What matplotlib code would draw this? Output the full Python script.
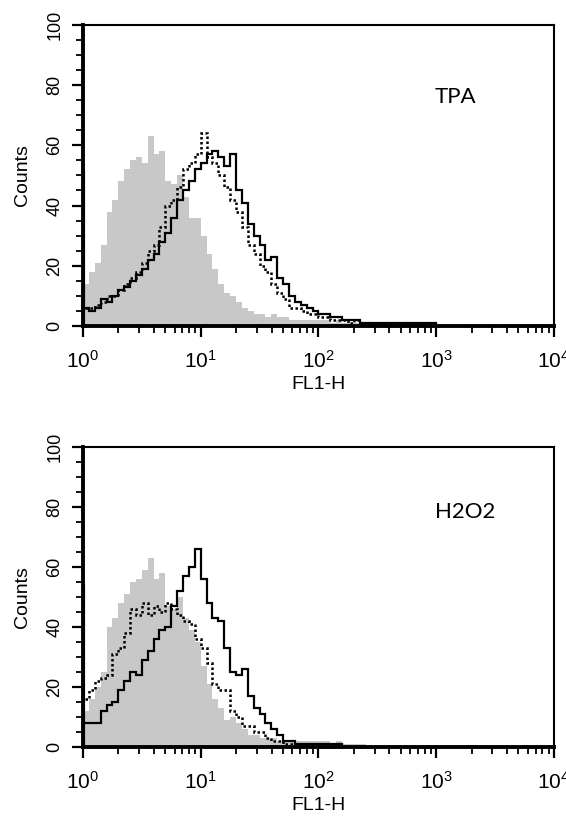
#! /usr/bin/env python3

import numpy as np
import matplotlib
matplotlib.use('Agg')
import matplotlib.pyplot as plt
from matplotlib.ticker import LogLocator, MultipleLocator, FuncFormatter, NullFormatter

plt.rcParams['font.family'] = ['Liberation Sans', 'DejaVu Sans']

# channels: 0.05 decade wide, from 10^0 up to 10^3
DECADE_STEP = 0.05

# TPA panel
tpa_control = [14, 18, 21, 27, 38, 42, 48, 52, 55, 56, 54, 63, 57, 58, 48, 47, 50, 43, 36, 36,
               30, 24, 19, 14, 11, 10, 8, 6, 5, 4, 4, 3, 4, 3, 3, 2, 2, 2, 2, 2,
               2, 2, 1, 2, 1, 1, 1, 1, 0, 0, 0, 0, 0, 0, 0, 0, 0, 0, 0, 0]
tpa_solid = [6, 5, 6, 9, 8, 10, 12, 13, 15, 17, 19, 22, 24, 28, 31, 36, 42, 45, 48, 52,
             54, 57, 58, 56, 53, 57, 45, 41, 34, 30, 27, 22, 23, 16, 14, 10, 8, 7, 6, 5,
             4, 4, 3, 3, 2, 2, 2, 1, 1, 1, 1, 1, 1, 1, 1, 1, 1, 1, 1, 1]
tpa_dotted = [6, 6, 7, 8, 10, 10, 12, 14, 16, 18, 21, 25, 27, 33, 40, 42, 46, 52, 54, 57,
              64, 56, 54, 50, 46, 42, 38, 33, 27, 24, 20, 18, 14, 11, 9, 6, 6, 5, 4, 4,
              3, 3, 2, 2, 2, 1, 2, 1, 1, 1, 1, 1, 1, 1, 1, 1, 1, 1, 0, 0]
tpa_first_channel = 52

# H2O2 panel
h2o2_control = [12, 16, 20, 25, 40, 43, 48, 51, 55, 56, 59, 63, 56, 58, 47, 46, 50, 43, 39, 35,
                27, 21, 16, 13, 9, 10, 8, 6, 4, 4, 3, 3, 3, 2, 2, 2, 2, 2, 2, 2,
                2, 2, 1, 2, 1, 1, 1, 1, 0, 0, 0, 0, 0, 0, 0, 0, 0, 0, 0, 0]
h2o2_solid = [8, 8, 8, 12, 14, 15, 19, 22, 25, 24, 29, 32, 36, 39, 40, 47, 52, 57, 60, 66,
              56, 48, 43, 42, 33, 25, 24, 26, 17, 13, 11, 8, 6, 4, 2, 2, 1, 1, 1, 1,
              1, 1, 1, 1, 0, 0, 0, 0, 0, 0, 0, 0, 0, 0, 0, 0, 0, 0, 0, 0]
h2o2_dotted = [16, 19, 22, 23, 24, 31, 33, 38, 46, 44, 48, 44, 47, 45, 48, 46, 44, 42, 41, 36,
               33, 28, 21, 19, 19, 12, 10, 7, 7, 5, 5, 3, 2, 2, 1, 1, 1, 1, 0, 0,
               0, 0, 0, 0, 0, 0, 0, 0, 0, 0, 0, 0, 0, 0, 0, 0, 0, 0, 0, 0]
h2o2_first_channel = 54

panels = [
    ('TPA', tpa_control, tpa_solid, tpa_dotted, tpa_first_channel, 1450, 76),
    ('H2O2', h2o2_control, h2o2_solid, h2o2_dotted, h2o2_first_channel, 1750, 78.5),
]

edges = 10 ** (np.arange(len(tpa_control) + 1) * DECADE_STEP)

def decade_label(x, pos):
    return r'$\mathregular{10^{%d}}$' % round(np.log10(x))

fig = plt.figure(figsize=(5.66, 8.21), dpi=100)
positions = [[0.1466, 0.603, 0.832, 0.3666], [0.1466, 0.0901, 0.832, 0.3654]]

for pos, (name, control, solid, dotted, first, label_x, label_y) in zip(positions, panels):
    ax = fig.add_axes(pos)
    ax.stairs(control, edges, fill=True, color='#c8c8c8', lw=0)
    ax.stairs(dotted, edges, color='black', lw=1.8, linestyle=(0, (1, 1)))
    ax.stairs(solid, edges, color='black', lw=1.6)
    ax.vlines(edges[0], 0, first, color='black', lw=3)

    ax.set_xscale('log')
    ax.set_xlim(1, 1e4)
    ax.set_ylim(0, 100)
    ax.xaxis.set_major_locator(LogLocator(base=10, numticks=10))
    ax.xaxis.set_minor_locator(LogLocator(base=10, subs=np.arange(2, 10), numticks=10))
    ax.xaxis.set_major_formatter(FuncFormatter(decade_label))
    ax.xaxis.set_minor_formatter(NullFormatter())
    ax.yaxis.set_major_locator(MultipleLocator(20))
    ax.yaxis.set_minor_locator(MultipleLocator(5))

    ax.tick_params(axis='both', which='major', direction='out', length=8, width=1.6)
    ax.tick_params(axis='both', which='minor', direction='out', length=5, width=1.3)
    ax.tick_params(axis='x', which='major', pad=9, labelsize=15)
    ax.tick_params(axis='y', which='major', pad=6, labelsize=13)
    for lab in ax.get_yticklabels():
        lab.set_rotation(90)
        lab.set_va('center')

    for side in ['left', 'bottom']:
        ax.spines[side].set_linewidth(2.8)
    for side in ['top', 'right']:
        ax.spines[side].set_linewidth(1.5)

    ax.set_ylabel('Counts', fontsize=14, labelpad=11)
    ax.set_xlabel('FL1-H', fontsize=14, labelpad=3)
    ax.text(label_x, label_y, name, fontsize=16, ha='center', va='center',
            family=['Lato', 'DejaVu Sans'])

fig.savefig('out.png', dpi=100)
